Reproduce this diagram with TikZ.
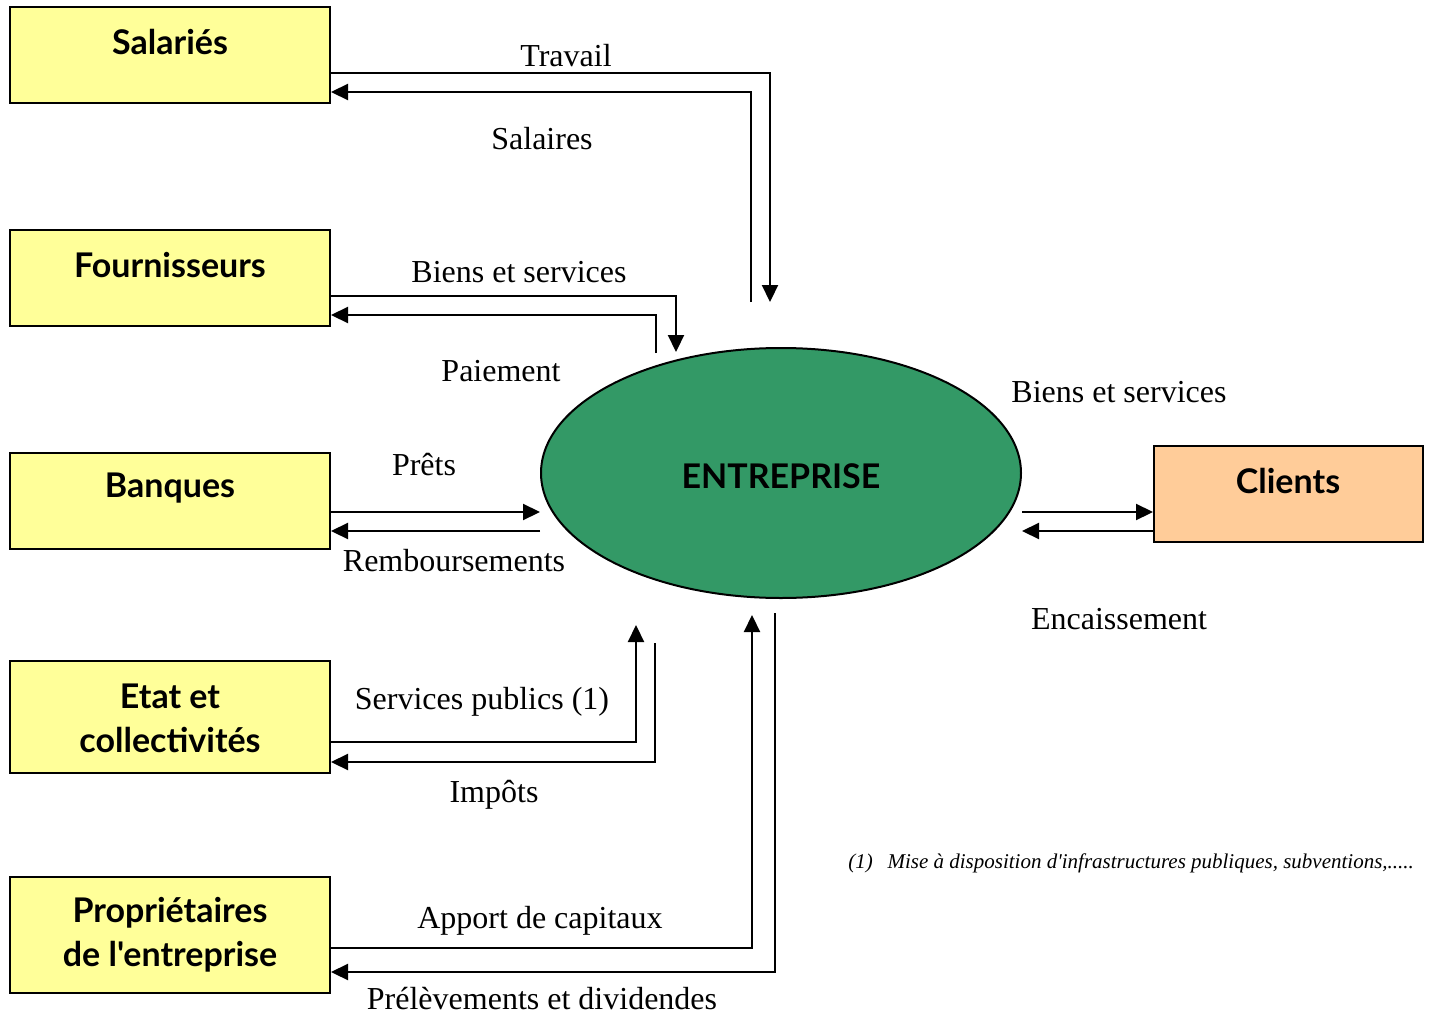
\documentclass[tikz,border=0pt]{standalone}
\usepackage{fontspec}
\setmainfont{Liberation Serif}
\newfontfamily\boxfont{Lato}
\usetikzlibrary{arrows.meta,shapes.geometric}
\definecolor{boxyellow}{HTML}{FFFF99}
\definecolor{boxorange}{HTML}{FFCC99}
\definecolor{entgreen}{HTML}{339966}
\tikzset{
  box/.style={draw, line width=1pt, fill=boxyellow, minimum width=160pt, minimum height=48pt, inner sep=0pt},
  btxt/.style={font=\boxfont\bfseries\fontsize{17}{22}\selectfont, align=center, inner sep=0pt},
  lab/.style={font=\fontsize{16}{19}\selectfont, inner sep=0pt},
  flow/.style={line width=1.1pt, -{Triangle[length=8.5pt,width=8pt]}},
}
\begin{document}
\begin{tikzpicture}[x=0.5pt,y=-0.5pt]
\useasboundingbox (0,0) rectangle (1431,1017);
% boxes
\node[box] (sal) at (170,55) {};
\node[box] (four) at (170,278) {};
\node[box] (ban) at (170,501) {};
\node[box, minimum height=56pt] (etat) at (170,717) {};
\node[box, minimum height=58pt] (prop) at (170,935) {};
\node[box, fill=boxorange, minimum width=134.5pt] (cli) at (1288.5,494) {};
\node[draw, line width=1pt, fill=entgreen, shape=ellipse, minimum width=240pt, minimum height=125pt, inner sep=0pt] (ent) at (781,473) {};
% box texts
\node[btxt] (salt) at (170,42) {Salariés};
\node[btxt] (fourt) at (170,265) {Fournisseurs};
\node[btxt] (bant) at (170,488) {Banques};
\node[btxt] (etatt) at (170,718) {Etat et\\collectivités};
\node[btxt] (propt) at (170,935) {Propriétaires\\de l'entreprise};
\node[btxt] (clit) at (1288,481) {Clients};
\node[btxt] (entt) at (781,476) {ENTREPRISE};
% free ends
\coordinate (tr) at (770,302);
\coordinate (sa) at (751,302);
\coordinate (bs) at (676,352);
\coordinate (pa) at (656,353);
\coordinate (sp) at (636,625);
\coordinate (im) at (655,643);
\coordinate (ap) at (752,615);
\coordinate (pr) at (775,613);
% connectors
\draw[flow] (sal.east |- 0,73) -| (tr);
\draw[flow] (sa) |- (sal.east |- 0,92);
\draw[flow] (four.east |- 0,296) -| (bs);
\draw[flow] (pa) |- (four.east |- 0,315);
\draw[flow] (ban.east |- 0,512) -- (ent.west |- 0,512);
\draw[flow] (ent.west |- 0,531) -- (ban.east |- 0,531);
\draw[flow] (ent.east |- 0,512) -- (cli.west |- 0,512);
\draw[flow] (cli.west |- 0,531) -- (ent.east |- 0,531);
\draw[flow] (etat.east |- 0,742) -| (sp);
\draw[flow] (im) |- (etat.east |- 0,762);
\draw[flow] (prop.east |- 0,948) -| (ap);
\draw[flow] (pr) |- (prop.east |- 0,972);
% labels
\node[lab] (l1) at (566,56) {Travail};
\node[lab] (l2) at (542,139) {Salaires};
\node[lab] (l3) at (519,272) {Biens et services};
\node[lab] (l4) at (501,371) {Paiement};
\node[lab] (l5) at (424,465) {Prêts};
\node[lab] (l6) at (454,561) {Remboursements};
\node[lab] (l7) at (1119,392) {Biens et services};
\node[lab] (l8) at (1119,619) {Encaissement};
\node[lab] (l9) at (482,702) {Services publics (1)};
\node[lab] (l10) at (494,795) {Impôts};
\node[lab] (l11) at (540,921) {Apport de capitaux};
\node[lab] (l12) at (542,999) {Prélèvements et dividendes};
\node[anchor=west, inner sep=0pt, font=\itshape\fontsize{10.5}{12}\selectfont] (fn) at (848,863) {(1)\hspace{0.7em}Mise à disposition d\textquotesingle infrastructures publiques, subventions,.....};
\end{tikzpicture}
\end{document}
